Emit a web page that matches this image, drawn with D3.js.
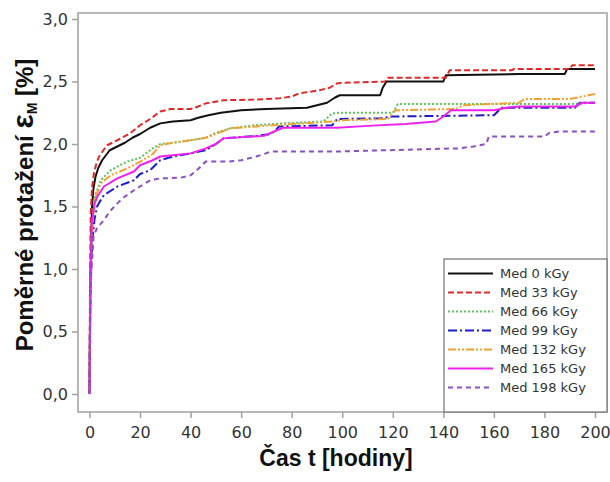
<!DOCTYPE html>
<html>
<head>
<meta charset="utf-8">
<script src="https://cdn.jsdelivr.net/npm/d3@7"></script>
<style>
  html, body { margin: 0; padding: 0; background: #fff; }
  svg { display: block; }
</style>
</head>
<body>
<svg id="chart" width="610" height="482"></svg>
<script>
// Creep curves: relative elongation ε_M [%] versus time t [hours], one per dose
const seriesNames = ["Med 0 kGy", "Med 33 kGy", "Med 66 kGy", "Med 99 kGy", "Med 132 kGy", "Med 165 kGy", "Med 198 kGy"];

const med0 = [[0,0],[0.3,0.9],[0.7,1.25],[1,1.5],[1.6,1.65],[2.4,1.74],[3.5,1.81],[5,1.87],[8,1.95],[11,1.98],[14,2.01],[17,2.05],[20,2.08],[24,2.13],[28,2.165],[33,2.18],[40,2.19],[43,2.21],[47,2.23],[52,2.25],[60,2.27],[70,2.28],[86,2.29],[90,2.31],[94,2.33],[97,2.37],[99,2.39],[115,2.39],[116,2.45],[117.5,2.5],[140,2.5],[141,2.55],[170,2.56],[188,2.56],[189,2.6],[200,2.6]];
const med33 = [[0,0],[0.2,0.9],[0.5,1.45],[1,1.65],[1.8,1.77],[2.8,1.85],[3.8,1.9],[5.5,1.95],[7,1.99],[11,2.03],[16,2.085],[20,2.15],[24,2.2],[28,2.26],[32,2.28],[40,2.28],[43,2.3],[46,2.325],[53,2.35],[65,2.355],[75,2.365],[80,2.38],[83,2.405],[91,2.43],[95,2.45],[98,2.485],[100,2.49],[117,2.5],[118,2.53],[141,2.53],[142.5,2.59],[167,2.59],[168,2.6],[190,2.6],[191,2.63],[200,2.63]];
const med66 = [[0,0],[0.3,0.8],[0.8,1.2],[1.6,1.5],[2.5,1.6],[4.4,1.71],[8.4,1.79],[12,1.83],[15,1.86],[20,1.89],[25,1.965],[28,2.0],[33,2.01],[40,2.03],[46,2.05],[50,2.09],[55.6,2.125],[65,2.15],[76.6,2.165],[92.5,2.18],[96,2.245],[99,2.25],[120,2.25],[122,2.32],[190,2.32],[200,2.33]];
const med99 = [[0,0],[0.3,0.8],[1,1.2],[2,1.4],[3,1.5],[4.4,1.55],[5.7,1.59],[11,1.66],[17.6,1.71],[20,1.76],[24,1.79],[28,1.87],[33,1.9],[40,1.925],[46,1.95],[50,2.0],[53,2.045],[66,2.065],[72,2.08],[75,2.14],[96,2.15],[98,2.2],[115,2.205],[120,2.22],[160,2.23],[163,2.29],[192,2.29],[194,2.33],[200,2.33]];
const med132 = [[0,0],[0.3,0.8],[1,1.3],[2,1.55],[4.4,1.685],[8.4,1.75],[15,1.805],[21,1.87],[25,1.92],[28,1.99],[33,2.01],[40,2.03],[46,2.05],[50,2.08],[55.6,2.125],[72.6,2.15],[96,2.18],[100,2.19],[118,2.2],[121,2.27],[145,2.28],[148,2.31],[170,2.33],[172,2.36],[190,2.36],[200,2.4]];
const med165 = [[0,0],[0.3,0.8],[0.9,1.37],[2,1.52],[3.1,1.58],[5.7,1.66],[11,1.725],[17.6,1.78],[20,1.83],[25,1.87],[28,1.9],[40,1.925],[46,1.965],[50,2.0],[53,2.045],[69,2.065],[73,2.1],[76.6,2.13],[98,2.13],[110,2.145],[125,2.16],[137,2.18],[140,2.22],[143,2.27],[160,2.27],[165,2.29],[170,2.3],[192,2.3],[195,2.33],[200,2.33]];
const med198 = [[0,0],[0.5,0.9],[1.6,1.26],[3,1.33],[5.7,1.39],[8,1.46],[11,1.525],[14,1.58],[17.6,1.63],[20,1.66],[24,1.71],[28,1.725],[36,1.73],[40,1.75],[43,1.8],[46,1.86],[55,1.86],[60,1.87],[66,1.9],[72,1.94],[98,1.94],[146,1.965],[152,1.98],[157,2.0],[158,2.06],[180,2.06],[182,2.09],[186,2.1],[200,2.1]];

const xTickValues = [0, 20, 40, 60, 80, 100, 120, 140, 160, 180, 200];
const yTickValues = [0, 0.5, 1.0, 1.5, 2.0, 2.5, 3.0];

const seriesData = [med0, med33, med66, med99, med132, med165, med198];
const seriesStyles = [
  { color: "#111111", dash: null },
  { color: "#dc2a2a", dash: "6,3" },
  { color: "#5cc05c", dash: "2,2" },
  { color: "#1c1cc8", dash: "9,3,2,3" },
  { color: "#f2a030", dash: "8,2,2,2,2,2" },
  { color: "#ee22ee", dash: null },
  { color: "#8a4fc4", dash: "5,4" }
];

const svg = d3.select("#chart");
const frame = { left: 78, top: 13, right: 607, bottom: 412 };

const x = d3.scaleLinear().domain([0, 200]).range([89.5, 595]);
const y = d3.scaleLinear().domain([0, 3]).range([394, 19]);
const fmt = v => d3.format(".1f")(v).replace(".", ",");

// plot frame
svg.append("rect")
  .attr("x", frame.left).attr("y", frame.top)
  .attr("width", frame.right - frame.left).attr("height", frame.bottom - frame.top)
  .attr("fill", "none").attr("stroke", "#a0a0a0").attr("stroke-width", 1.5);

// axes
const tickFont = "DejaVu Sans, Verdana, sans-serif";
const xAxis = svg.append("g")
  .attr("transform", `translate(0,${frame.bottom})`)
  .call(d3.axisBottom(x).tickValues(xTickValues).tickSize(6).tickPadding(9).tickFormat(d3.format("d")));
const yAxis = svg.append("g")
  .attr("transform", `translate(${frame.left},0)`)
  .call(d3.axisLeft(y).tickValues(yTickValues).tickSize(6).tickPadding(4).tickFormat(fmt));
[xAxis, yAxis].forEach(g => {
  g.select(".domain").remove();
  g.selectAll(".tick line").attr("stroke", "#a0a0a0").attr("stroke-width", 1.5);
  g.selectAll(".tick text").attr("fill", "#333").style("font-family", tickFont).style("font-size", "16px");
});

// curves
const line = d3.line().x(d => x(d[0])).y(d => y(d[1]));
const curves = svg.append("g");
seriesData.forEach((data, i) => {
  curves.append("path")
    .datum(data)
    .attr("d", line)
    .attr("fill", "none")
    .attr("stroke", seriesStyles[i].color)
    .attr("stroke-width", 2)
    .attr("stroke-linejoin", "round")
    .attr("stroke-dasharray", seriesStyles[i].dash);
});

// legend
const legend = svg.append("g");
legend.append("rect")
  .attr("x", 444).attr("y", 259).attr("width", 163).attr("height", 153)
  .attr("fill", "#fff").attr("stroke", "#707070").attr("stroke-width", 1.2);
seriesNames.forEach((name, i) => {
  const ly = 273.5 + i * 19;
  legend.append("line")
    .attr("x1", 448).attr("x2", 493).attr("y1", ly).attr("y2", ly)
    .attr("stroke", seriesStyles[i].color).attr("stroke-width", 2)
    .attr("stroke-dasharray", seriesStyles[i].dash);
  legend.append("text")
    .attr("x", 500).attr("y", ly).attr("dy", "0.35em")
    .attr("fill", "#333")
    .style("font-family", tickFont).style("font-size", "13px")
    .text(name);
});

// axis titles
const titleFont = "Liberation Sans, Arial, sans-serif";
svg.append("text")
  .attr("x", 336).attr("y", 466)
  .attr("text-anchor", "middle")
  .style("font-family", titleFont).style("font-size", "23px").style("font-weight", "bold")
  .attr("fill", "#111")
  .text("Čas t [hodiny]");

const yTitle = svg.append("text")
  .attr("transform", "translate(33,205) rotate(-90)")
  .attr("text-anchor", "middle")
  .style("font-family", titleFont).style("font-size", "24px").style("font-weight", "bold")
  .attr("fill", "#111");
yTitle.append("tspan").text("Poměrné protažení ");
yTitle.append("tspan").style("font-size", "30px").text("ε");
yTitle.append("tspan").style("font-size", "14px").attr("dy", 4).text("M");
yTitle.append("tspan").attr("dy", -4).text(" [%]");
</script>
</body>
</html>
